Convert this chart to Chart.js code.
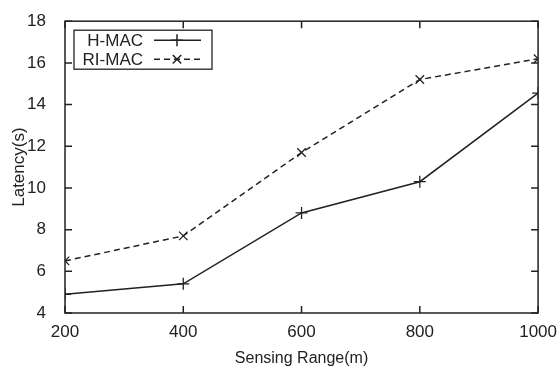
<!DOCTYPE html>
<html>
<head>
<meta charset="utf-8">
<script src="https://cdn.jsdelivr.net/npm/chart.js@4/dist/chart.umd.min.js"></script>
<style>
html,body{margin:0;padding:0;background:#fff;}
#c{display:block;}
</style>
</head>
<body>
<canvas id="c" width="558" height="370"></canvas>
<script>
const ranges = [200, 400, 600, 800, 1000];
const hmac = [4.9, 5.4, 8.8, 10.3, 14.55];
const rimac = [6.5, 7.7, 11.7, 15.2, 16.2];
const seriesNames = ['H-MAC', 'RI-MAC'];
const xTitle = 'Sensing Range(m)';
const yTitle = 'Latency(s)';

const FONT = 'Liberation Sans, Arial, Helvetica, sans-serif';
const INK = '#222';
const FS = 17;

const framePlugin = {
  id: 'frame',
  afterDatasetsDraw(chart) {
    const {ctx, chartArea: a, scales} = chart;
    ctx.save();
    ctx.strokeStyle = INK;
    ctx.lineWidth = 1.5;
    ctx.strokeRect(a.left, a.top, a.right - a.left, a.bottom - a.top);
    const tl = 7;
    ctx.beginPath();
    scales.x.ticks.forEach(t => {
      const px = scales.x.getPixelForValue(t.value);
      ctx.moveTo(px, a.bottom); ctx.lineTo(px, a.bottom - tl);
      ctx.moveTo(px, a.top); ctx.lineTo(px, a.top + tl);
    });
    scales.y.ticks.forEach(t => {
      const py = scales.y.getPixelForValue(t.value);
      ctx.moveTo(a.left, py); ctx.lineTo(a.left + tl, py);
      ctx.moveTo(a.right, py); ctx.lineTo(a.right - tl, py);
    });
    ctx.stroke();

    // legend box
    const bx = a.left + 9, by = a.top + 9, bw = 138, bh = 39;
    ctx.fillStyle = '#fff';
    ctx.fillRect(bx, by, bw, bh);
    ctx.lineWidth = 1.3;
    ctx.strokeRect(bx, by, bw, bh);
    ctx.font = FS + 'px ' + FONT;
    ctx.textAlign = 'right';
    ctx.textBaseline = 'middle';
    chart.data.datasets.forEach((ds, i) => {
      const cy = by + 10 + i * 19;
      ctx.fillStyle = INK;
      ctx.fillText(ds.label, bx + 69, cy + 1);
      ctx.save();
      ctx.strokeStyle = ds.borderColor;
      ctx.lineWidth = ds.borderWidth;
      ctx.setLineDash(ds.borderDash || []);
      ctx.beginPath();
      ctx.moveTo(bx + 80, cy); ctx.lineTo(bx + 127, cy);
      ctx.stroke();
      ctx.setLineDash([]);
      Chart.helpers.drawPoint(ctx, {pointStyle: ds.pointStyle, radius: ds.pointRadius, borderWidth: 1.3}, bx + 103, cy);
      ctx.restore();
    });
    ctx.restore();
  }
};

new Chart(document.getElementById('c'), {
  type: 'line',
  data: {
    datasets: [
      {
        label: seriesNames[0],
        data: ranges.map((x, i) => ({x, y: hmac[i]})),
        borderColor: INK, backgroundColor: INK,
        borderWidth: 1.5, pointStyle: 'cross', pointRadius: 6, pointBorderWidth: 1.3,
        tension: 0, fill: false
      },
      {
        label: seriesNames[1],
        data: ranges.map((x, i) => ({x, y: rimac[i]})),
        borderColor: INK, backgroundColor: INK,
        borderWidth: 1.5, borderDash: [6, 4], pointStyle: 'crossRot', pointRadius: 6, pointBorderWidth: 1.3,
        tension: 0, fill: false
      }
    ]
  },
  options: {
    responsive: false,
    animation: false,
    devicePixelRatio: 1,
    layout: {padding: {top: 19, right: 19, left: 0, bottom: 0}},
    plugins: {legend: {display: false}, tooltip: {enabled: false}},
    scales: {
      x: {
        type: 'linear', min: 200, max: 1000,
        ticks: {stepSize: 200, color: INK, font: {family: FONT, size: FS}, padding: 1, maxRotation: 0,
                callback: v => String(v)},
        grid: {display: false}, border: {display: false},
        title: {display: true, text: xTitle, color: INK, font: {family: FONT, size: 16}, padding: {top: 0, bottom: 2}},
        afterFit(s) { s.height = 57; }
      },
      y: {
        type: 'linear', min: 4, max: 18,
        ticks: {stepSize: 2, color: INK, font: {family: FONT, size: FS}, padding: 11},
        grid: {display: false}, border: {display: false},
        title: {display: true, text: yTitle, color: INK, font: {family: FONT, size: FS}, padding: {top: 9, bottom: 0}},
        afterFit(s) { s.width = 65; }
      }
    }
  },
  plugins: [framePlugin]
});
</script>
</body>
</html>
